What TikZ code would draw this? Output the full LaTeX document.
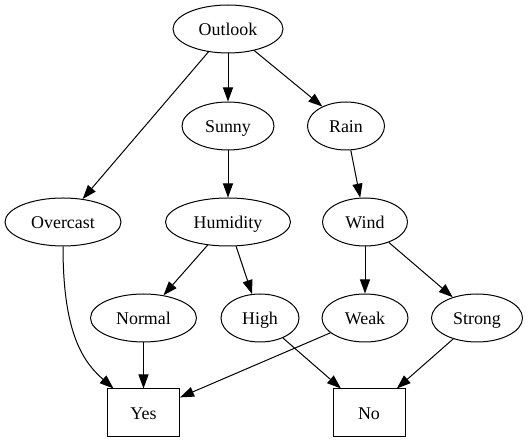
\documentclass[tikz,border=0pt]{standalone}
\usepackage{fontspec}
\setmainfont{Liberation Serif}
\usetikzlibrary{shapes.geometric,arrows.meta}
\begin{document}
\begin{tikzpicture}[x=1pt,y=-1pt,
  every node/.style={font=\fontsize{17.9}{20}\selectfont, inner sep=0pt, text height=15pt, text depth=2pt},
  ell/.style={draw, line width=1pt, ellipse, minimum height=48pt},
  leaf/.style={draw, line width=1pt, rectangle, minimum width=72pt, minimum height=48pt},
  edge/.style={draw, line width=1pt, -{Triangle[length=14pt,width=10pt]}}]
\useasboundingbox (0,0) rectangle (531,443);
\node[ell, minimum width=110pt] (outlook) at (228,29) {Outlook};
\node[ell, minimum width=92pt] (sunny) at (228,126) {Sunny};
\node[ell, minimum width=77pt] (rain) at (346,126) {Rain};
\node[ell, minimum width=116pt] (overcast) at (63,222) {Overcast};
\node[ell, minimum width=125pt] (humidity) at (228,222) {Humidity};
\node[ell, minimum width=85pt] (wind) at (365,222) {Wind};
\node[ell, minimum width=106pt] (normal) at (143.5,318) {Normal};
\node[ell, minimum width=78pt] (high) at (260,318) {High};
\node[ell, minimum width=86pt] (weak) at (365,318) {Weak};
\node[ell, minimum width=91pt] (strong) at (477,318) {Strong};
\node[leaf] (yes) at (143.5,413) {Yes};
\node[leaf] (no) at (369,413) {No};
\coordinate (yestip) at ([xshift=6.5pt]yes.north west);
\path[edge] (outlook) -- (sunny);
\path[edge] (outlook) -- (rain);
\path[edge] (outlook) -- (overcast);
\path[edge] (sunny) -- (humidity);
\path[edge] (rain) -- (wind);
\path[edge] (humidity) -- (normal);
\path[edge] (humidity) -- (high);
\path[edge] (wind) -- (weak);
\path[edge] (wind) -- (strong);
\path[edge] (overcast.south) .. controls +(0,84) and +(-32,-28) .. (yestip);
\path[edge] (normal) -- (yes);
\path[edge] (weak) -- (yes);
\path[edge] (high) -- (no);
\path[edge] (strong) -- (no);
\end{tikzpicture}
\end{document}
